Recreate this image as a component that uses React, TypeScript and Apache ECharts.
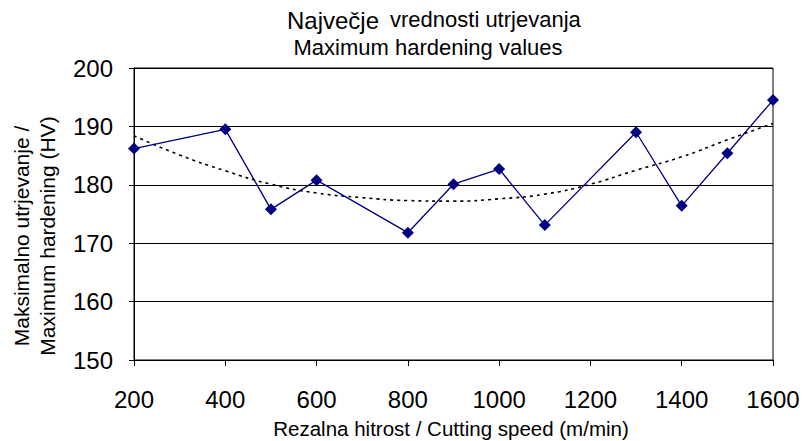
import React, { useEffect, useRef } from "react";
import * as echarts from "echarts";

const speeds = [200, 400, 500, 600, 800, 900, 1000, 1100, 1300, 1400, 1500, 1600];
const hardness = [186.2, 189.5, 175.8, 180.8, 171.8, 180.1, 182.7, 173.1, 189.0, 176.4, 185.4, 194.5];

const trendSpeeds = [200, 300, 400, 500, 600, 700, 800, 900, 1000, 1100, 1200, 1300, 1400, 1500, 1600];
const trendValues = [188.4, 185.1, 182.4, 180.1, 178.6, 177.8, 177.3, 177.2, 177.6, 178.4, 180.1, 182.5, 184.8, 187.7, 190.5];

const titleMain = "Največje";
const titleRest = "vrednosti utrjevanja";
const titleLine2 = "Maximum hardening values";
const yName1 = "Maksimalno utrjevanje /";
const yName2 = "Maximum hardening (HV)";
const xName = "Rezalna hitrost / Cutting speed (m/min)";

const FONT = '"Liberation Sans", Arial, Helvetica, sans-serif';

export default function App() {
  const ref = useRef<HTMLDivElement>(null);
  useEffect(() => {
    if (!ref.current) return;
    const chart = echarts.init(ref.current, null, { renderer: "svg" });
    const txt = (text: string, x: number, y: number, size: number, align: string, rotation = 0) => ({
      type: "text",
      x,
      y,
      rotation,
      style: {
        text,
        fill: "#000",
        font: `${size}px ${FONT}`,
        fontSize: size,
        fontFamily: FONT,
        align,
        textAlign: align,
        verticalAlign: "middle",
        textVerticalAlign: "middle",
      },
    });
    chart.setOption({
      animation: false,
      backgroundColor: "#fff",
      grid: {
        left: 134,
        right: 30,
        top: 68,
        bottom: 81,
        show: true,
        borderColor: "#000",
        borderWidth: 1,
        backgroundColor: "#fff",
      },
      xAxis: {
        type: "value",
        min: 200,
        max: 1600,
        interval: 200,
        axisLine: { show: true, lineStyle: { color: "#000", width: 1 } },
        axisTick: { show: true, length: 6, lineStyle: { color: "#000" } },
        splitLine: { show: false },
        axisLabel: {
          color: "#000",
          fontSize: 24,
          fontFamily: FONT,
          margin: 27,
          formatter: (v: number) => String(v),
        },
      },
      yAxis: {
        type: "value",
        min: 150,
        max: 200,
        interval: 10,
        axisLine: { show: true, lineStyle: { color: "#000", width: 1 } },
        axisTick: { show: true, length: 5, lineStyle: { color: "#000" } },
        splitLine: { show: true, lineStyle: { color: "#000", width: 1 } },
        axisLabel: {
          color: "#000",
          fontSize: 24,
          fontFamily: FONT,
          margin: 21,
          formatter: (v: number) => String(v),
        },
      },
      series: [
        {
          type: "line",
          data: trendSpeeds.map((s, i) => [s, trendValues[i]]),
          showSymbol: false,
          symbol: "none",
          smooth: true,
          lineStyle: { color: "#000", width: 1.6, type: [3, 4] },
          z: 2,
        },
        {
          type: "line",
          data: speeds.map((s, i) => [s, hardness[i]]),
          symbol: "diamond",
          symbolSize: 12,
          itemStyle: { color: "#000080" },
          lineStyle: { color: "#000080", width: 1.3 },
          z: 3,
        },
      ],
      graphic: [
        txt(titleMain, 379, 20, 24, "right"),
        txt(titleRest, 390, 19, 22, "left"),
        txt(titleLine2, 428, 47, 22, "center"),
        txt(yName1, 21, 236, 21, "center", Math.PI / 2),
        txt(yName2, 47, 236, 21, "center", Math.PI / 2),
        txt(xName, 451, 428, 20.5, "center"),
      ],
    });
    return () => chart.dispose();
  }, []);
  return (
    <div
      ref={ref}
      style={{ position: "fixed", left: 0, top: 0, width: 803, height: 441, background: "#fff" }}
    />
  );
}
